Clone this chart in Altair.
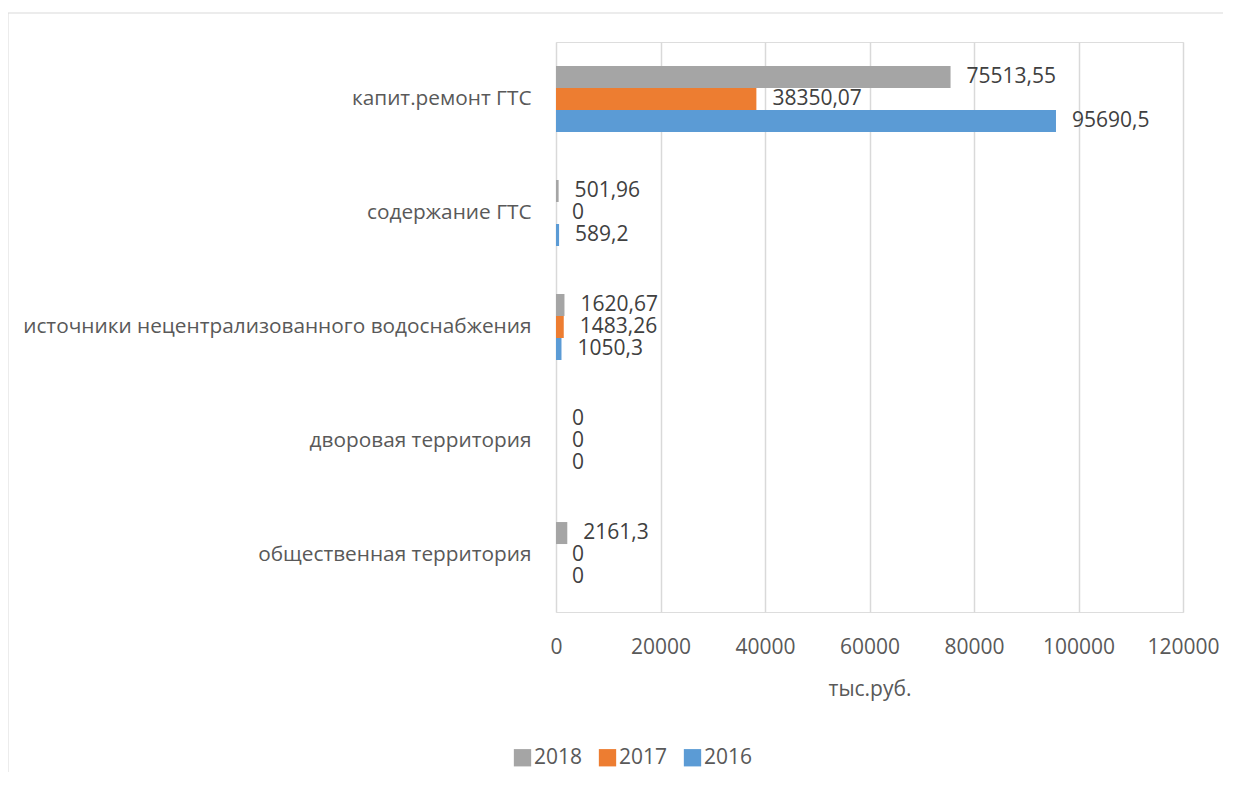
import altair as alt
import pandas as pd

categories = [
    "капит.ремонт ГТС",
    "содержание ГТС",
    "источники нецентрализованного водоснабжения",
    "дворовая территория",
    "общественная территория",
]
years = ["2018", "2017", "2016"]
values_2018 = [75513.55, 501.96, 1620.67, 0, 2161.3]
values_2017 = [38350.07, 0, 1483.26, 0, 0]
values_2016 = [95690.5, 589.2, 1050.3, 0, 0]
colors = ["#A5A5A5", "#ED7D31", "#5B9BD5"]
x_ticks = [0, 20000, 40000, 60000, 80000, 100000, 120000]


def fmt(v):
    s = f"{v:.2f}".rstrip("0").rstrip(".")
    return s.replace(".", ",")


rows = []
for year, vals in zip(years, [values_2018, values_2017, values_2016]):
    for cat, v in zip(categories, vals):
        rows.append({"cat": cat, "year": year, "value": v, "label": fmt(v)})
df = pd.DataFrame(rows)

FONT = "Open Sans"
TXT = "#595959"

y_enc = alt.Y(
    "cat:N",
    sort=categories,
    scale=alt.Scale(paddingInner=0.421, paddingOuter=0.21),
    axis=alt.Axis(
        title=None,
        ticks=False,
        domain=False,
        labelPadding=25,
        labelFontSize=20.8,
        labelFont=FONT,
        labelColor=TXT,
        labelLimit=700,
    ),
)
yoff = alt.YOffset("year:N", sort=years, scale=alt.Scale(paddingInner=0, paddingOuter=0))

x_enc = alt.X(
    "value:Q",
    scale=alt.Scale(domain=[0, 120000], nice=False),
    axis=alt.Axis(
        values=x_ticks,
        format="d",
        title="тыс.руб.",
        titleFont=FONT,
        titleFontSize=21,
        titleFontWeight="normal",
        titleColor=TXT,
        titlePadding=21,
        ticks=False,
        domain=False,
        labelFlush=False,
        labelOverlap=False,
        labelPadding=24,
        labelFontSize=21,
        labelFont=FONT,
        labelColor=TXT,
        grid=True,
        gridColor="#D9D9D9",
        gridWidth=1.5,
    ),
)

base = alt.Chart(df)

bars = base.mark_bar(size=22).encode(
    x=x_enc,
    y=y_enc,
    yOffset=yoff,
    color=alt.Color(
        "year:N",
        sort=years,
        scale=alt.Scale(domain=years, range=colors),
        legend=alt.Legend(
            title=None,
            orient="none",
            direction="horizontal",
            legendX=-44,
            legendY=705,
            symbolType="square",
            symbolSize=300,
            symbolStrokeWidth=0,
            labelFont=FONT,
            labelFontSize=21,
            labelColor=TXT,
            columnPadding=14,
            labelOffset=1,
        ),
    ),
)

labels = base.mark_text(
    align="left", baseline="middle", dx=16, font=FONT, fontSize=21, color="#404040"
).encode(
    x=alt.X("value:Q"),
    y=alt.Y("cat:N", sort=categories),
    yOffset=alt.YOffset("year:N", sort=years),
    text="label:N",
)

frame_top = alt.Chart(pd.DataFrame({"k": [0]})).mark_rule(color="#D9D9D9", strokeWidth=1).encode(
    x=alt.value(-548), x2=alt.value(800), y=alt.value(-29)
)
frame_left = alt.Chart(pd.DataFrame({"k": [0]})).mark_rule(color="#D9D9D9", strokeWidth=1).encode(
    x=alt.value(-548), y=alt.value(-29), y2=alt.value(800)
)

chart = (
    alt.layer(frame_top, frame_left, bars, labels)
    .properties(
        width=627,
        height=570,
        autosize=alt.AutoSizeParams(type="none"),
        padding={"left": 548, "top": 34, "right": 40, "bottom": 160},
    )
    .configure_view(stroke=None)
    .configure(background="white")
)

chart.save("out.html", embed_options={"renderer": "svg", "actions": False})
